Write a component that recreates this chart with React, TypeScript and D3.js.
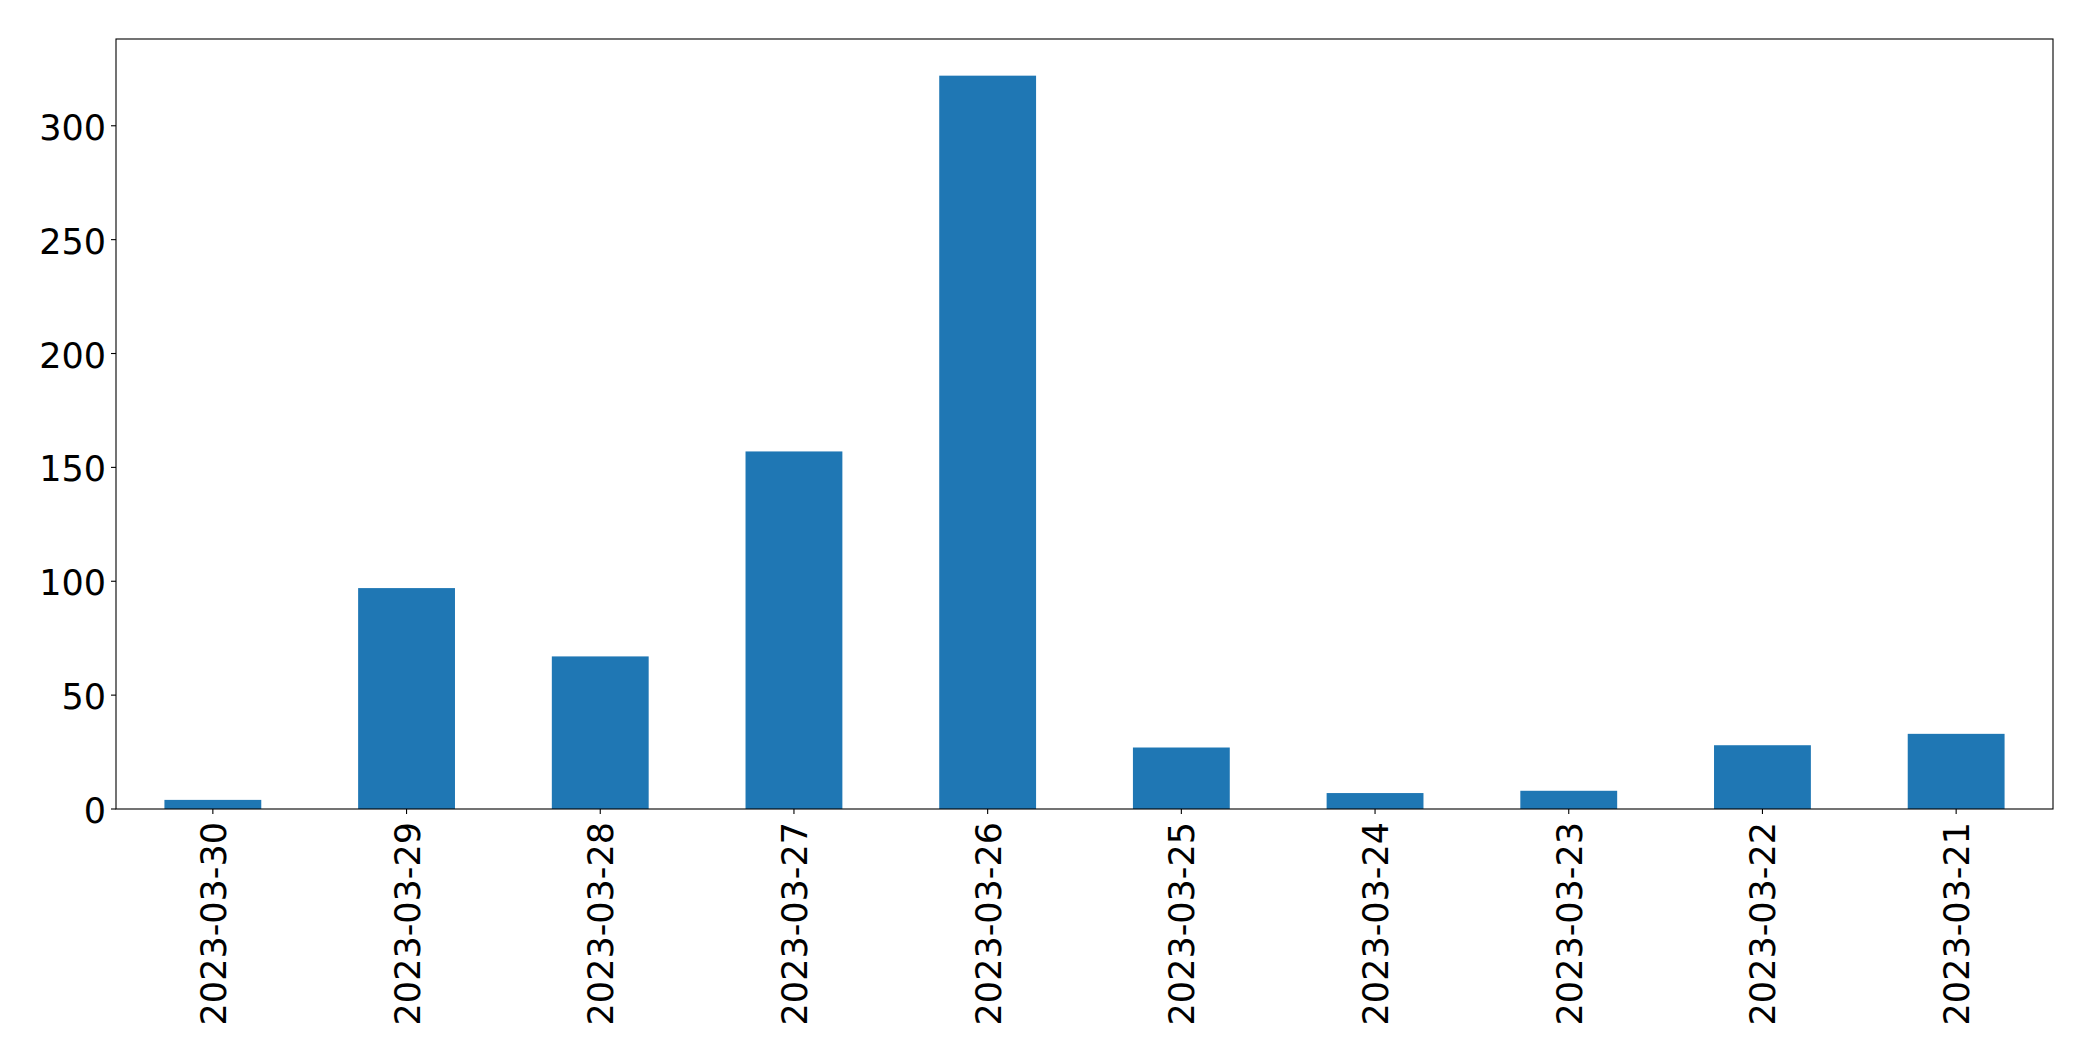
import React from "react";
import * as d3 from "d3";

const categories = [
  "2023-03-30",
  "2023-03-29",
  "2023-03-28",
  "2023-03-27",
  "2023-03-26",
  "2023-03-25",
  "2023-03-24",
  "2023-03-23",
  "2023-03-22",
  "2023-03-21",
];
const values = [4, 97, 67, 157, 322, 27, 7, 8, 28, 33];
const yTicks = [0, 50, 100, 150, 200, 250, 300];

const W = 2093;
const H = 1061;
const margin = { left: 116, right: 2053, top: 39, bottom: 809 };
const FONT = "DejaVu Sans, sans-serif";
const FS = 35;
const COLOR = "#1f77b4";

export default function App() {
  const x = d3
    .scaleBand<string>()
    .domain(categories)
    .range([margin.left, margin.right])
    .paddingInner(0.5)
    .paddingOuter(0.25);
  const yMax = d3.max(values)! * 1.05;
  const y = d3.scaleLinear().domain([0, yMax]).range([margin.bottom, margin.top]);
  const bw = x.bandwidth();

  return (
    <svg
      width={W}
      height={H}
      style={{ position: "absolute", left: 0, top: 0, background: "#fff" }}
      fontFamily={FONT}
    >
      <rect x={0} y={0} width={W} height={H} fill="#fff" />
      {categories.map((c, i) => (
        <rect
          key={c}
          x={x(c)!}
          y={y(values[i])}
          width={bw}
          height={y(0) - y(values[i])}
          fill={COLOR}
        />
      ))}
      <rect
        x={margin.left}
        y={margin.top}
        width={margin.right - margin.left}
        height={margin.bottom - margin.top}
        fill="none"
        stroke="#000"
        strokeWidth={1.1}
      />
      {yTicks.map((t) => (
        <g key={t}>
          <line
            x1={margin.left - 5}
            x2={margin.left}
            y1={y(t)}
            y2={y(t)}
            stroke="#000"
            strokeWidth={1.1}
          />
          <text
            x={margin.left - 10}
            y={y(t) + 2}
            textAnchor="end"
            dominantBaseline="central"
            fontSize={FS}
            fill="#000"
          >
            {t}
          </text>
        </g>
      ))}
      {categories.map((c) => {
        const cx = x(c)! + bw / 2;
        return (
          <g key={c}>
            <line
              x1={cx}
              x2={cx}
              y1={margin.bottom}
              y2={margin.bottom + 5}
              stroke="#000"
              strokeWidth={1.1}
            />
            <text
              transform={`translate(${cx + 1},${margin.bottom + 13}) rotate(-90)`}
              textAnchor="end"
              dominantBaseline="central"
              fontSize={FS}
              fill="#000"
            >
              {c}
            </text>
          </g>
        );
      })}
    </svg>
  );
}
